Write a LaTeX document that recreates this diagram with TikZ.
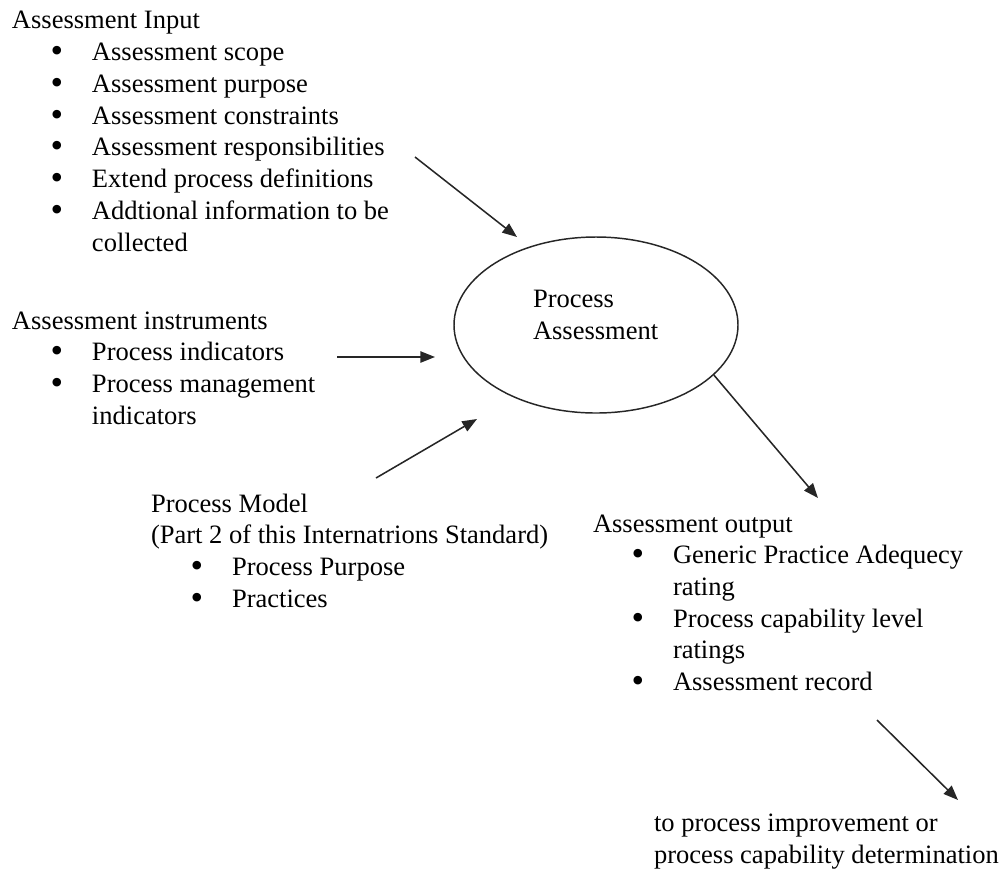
\documentclass[tikz,border=0pt]{standalone}
\usepackage{fontspec}
\setmainfont{Liberation Serif}
\usetikzlibrary{shapes.geometric,arrows.meta}

% one screen pixel
\newlength\px
\setlength\px{0.75pt}

% bulleted line: bullet centred #1 px from the block's left edge, text 35 px further on
\newcommand\itm[2]{\hspace*{#1\px}\makebox[0pt]{\smash{\raisebox{-1.4pt}{\scalebox{1.35}{\textbullet}}}}\hspace*{35\px}#2}
% continuation line of a wrapped item
\newcommand\cnt[2]{\hspace*{#1\px}#2}

% multi-line blocks are anchored at the baseline of their last line
\tikzset{
  txt/.style={anchor=base west, inner sep=0pt, outer sep=0pt, align=left,
              font=\fontsize{19.9pt}{23.8pt}\selectfont, text=black},
  conn/.style={line width=1.15pt, draw=black!85,
               -{Triangle[length=11pt,width=8.5pt]}},
}

\begin{document}
\begin{tikzpicture}[x=0.75pt, y=-0.75pt]
\useasboundingbox (0,0) rectangle (1003,869);

% central process
\node[ellipse, draw=black!85, line width=1.1pt, minimum width=284\px,
      minimum height=176\px, inner sep=0pt] (pa) at (596,325) {};
\node[txt] (patext) at (533,339.7) {Process\\Assessment};

% inputs
\node[txt] (input) at (12,251.1) {Assessment Input\\
  \itm{45}{Assessment scope}\\
  \itm{45}{Assessment purpose}\\
  \itm{45}{Assessment constraints}\\
  \itm{45}{Assessment responsibilities}\\
  \itm{45}{Extend process definitions}\\
  \itm{45}{Addtional information to be}\\
  \cnt{80}{collected}};

\node[txt] (instr) at (12,424.2) {Assessment instruments\\
  \itm{45}{Process indicators}\\
  \itm{45}{Process management}\\
  \cnt{80}{indicators}};

\node[txt] (model) at (151,607.2) {Process Model\\
  (Part 2 of this Internatrions Standard)\\
  \itm{46}{Process Purpose}\\
  \itm{46}{Practices}};

% outputs
\node[txt] (output) at (593,690.7) {Assessment output\\
  \itm{45}{Generic Practice Adequecy}\\
  \cnt{80}{rating}\\
  \itm{45}{Process capability level}\\
  \cnt{80}{ratings}\\
  \itm{45}{Assessment record}};

\node[txt] (next) at (654,863.7) {to process improvement or\\
  process capability determination};

% arrow ends
\coordinate (a1s) at (415,157);
\coordinate (a1e) at (517,237);
\coordinate (a2s) at (337,357);
\coordinate (a2e) at (435,357);
\coordinate (a3s) at (376,478);
\coordinate (a3e) at (477,419);
\coordinate (a4e) at (818,498);
\coordinate (a5s) at (877,720);
\coordinate (a5e) at (958,800);

\draw[conn] (a1s) -- (a1e);
\draw[conn] (a2s) -- (a2e);
\draw[conn] (a3s) -- (a3e);
\draw[conn] (pa.-23.6) -- (a4e);
\draw[conn] (a5s) -- (a5e);
\end{tikzpicture}
\end{document}
